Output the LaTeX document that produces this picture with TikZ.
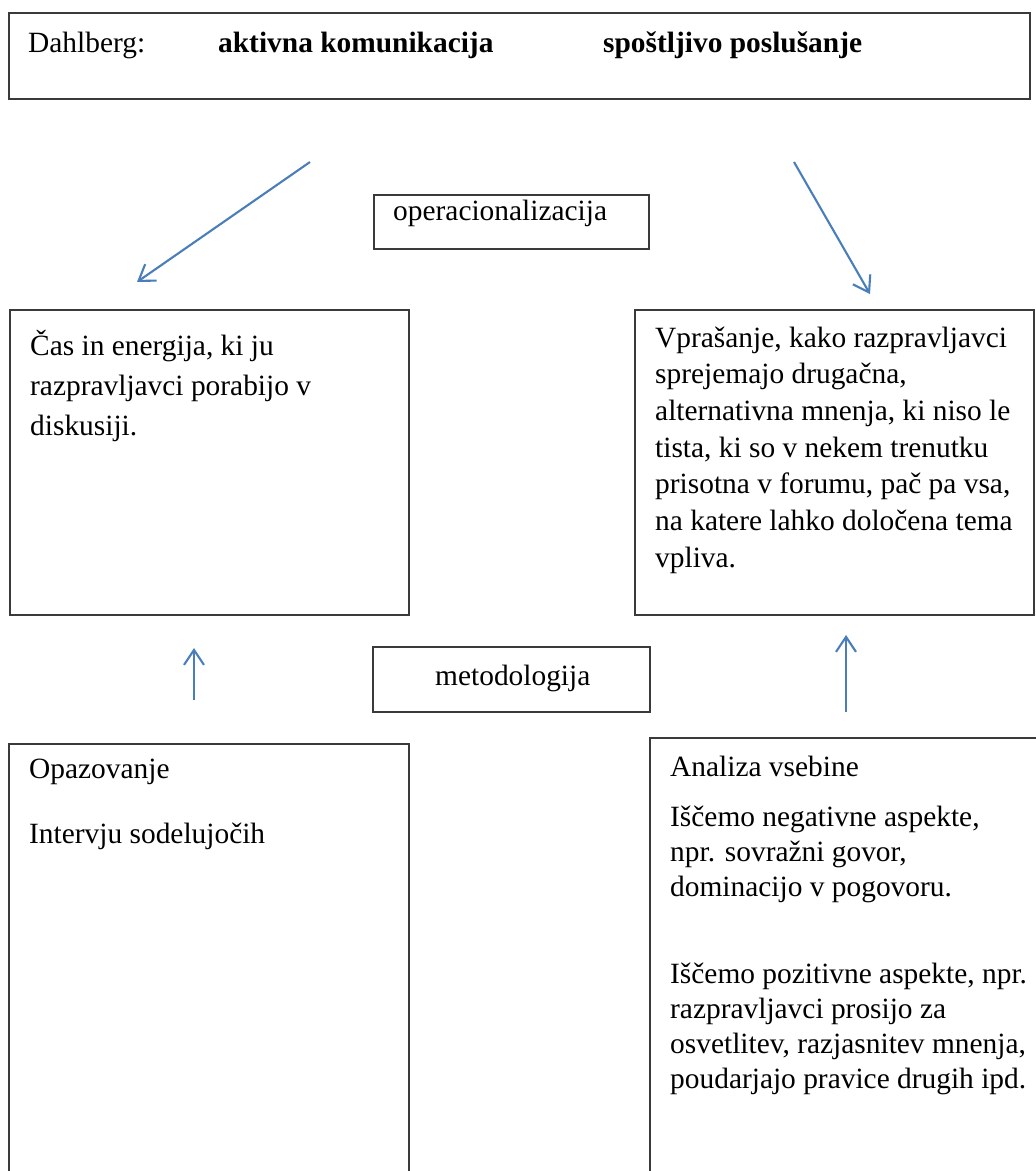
\documentclass[tikz,border=0pt]{standalone}
\usepackage{fontspec}
\setmainfont{Liberation Serif}
\usetikzlibrary{arrows.meta}
\definecolor{arrowblue}{HTML}{4A7EBB}
\definecolor{boxline}{HTML}{3A3A3A}
\newcommand{\tline}[1]{\hbox{#1}}
\begin{document}
\begin{tikzpicture}[x=1pt,y=-1pt,
  box/.style={draw=boxline, line width=1.8pt, inner sep=0pt, anchor=north west},
  txt/.style={anchor=base west, inner sep=0pt, font=\fontsize{29.4}{37}\selectfont},
  arr/.style={draw=arrowblue, line width=2.1pt, -{Straight Barb[length=15pt,width=20pt]}}]
\useasboundingbox (0,0) rectangle (1036,1171);
\clip (0,0) rectangle (1036,1171);
\fill[white] (0,0) rectangle (1036,1171);

% top box
\node[box, minimum width=1021pt, minimum height=86pt] (topbox) at (8,12) {};
\node[txt] (dahl) at (28,52) {Dahlberg:};
\node[txt, font=\fontsize{29.4}{37}\selectfont\bfseries] (akt) at (218,52) {aktivna komunikacija};
\node[txt, font=\fontsize{29.4}{37}\selectfont\bfseries] (spo) at (603,52) {spoštljivo poslušanje};

% operacionalizacija
\node[box, minimum width=275pt, minimum height=54pt] (opbox) at (373,194) {};
\node[txt] (optxt) at (393,220) {operacionalizacija};

% diagonal arrows
\coordinate (a1s) at (310,162);
\coordinate (a1e) at (137,282);
\coordinate (a2s) at (794,162);
\coordinate (a2e) at (870,294);
\draw[arr] (a1s) -- (a1e);
\draw[arr] (a2s) -- (a2e);

% middle boxes
\node[box, minimum width=399pt, minimum height=305pt] (casbox) at (9,309) {};
\node[txt, font=\fontsize{29.4}{40}\selectfont] (castxt) at (30,355)
  {\vtop{\tline{Čas in energija, ki ju}\tline{razpravljavci porabijo v}\tline{diskusiji.}}};

\node[box, minimum width=399pt, minimum height=305pt] (vprbox) at (634,309) {};
\node[txt, font=\fontsize{29.4}{36.7}\selectfont] (vprtxt) at (655,347)
  {\vtop{\tline{Vprašanje, kako razpravljavci}\tline{sprejemajo drugačna,}\tline{alternativna mnenja, ki niso le}\tline{tista, ki so v nekem trenutku}\tline{prisotna v forumu, pač pa vsa,}\tline{na katere lahko določena tema}\tline{vpliva.}}};

% metodologija
\node[box, minimum width=277pt, minimum height=65pt] (metbox) at (372,646) {};
\node[txt] (mettxt) at (435,685) {metodologija};

% up arrows
\coordinate (u1s) at (194,700);
\coordinate (u1e) at (194,648);
\coordinate (u2s) at (846,712);
\coordinate (u2e) at (846,635);
\draw[arr] (u1s) -- (u1e);
\draw[arr] (u2s) -- (u2e);

% bottom boxes
\node[box, minimum width=400pt, minimum height=500pt] (opzbox) at (8,743) {};
\node[txt] (opz1) at (29,778) {Opazovanje};
\node[txt] (opz2) at (29,843) {Intervju sodelujočih};

\node[box, minimum width=420pt, minimum height=500pt] (anbox) at (649,737) {};
\node[txt] (an0) at (670,776) {Analiza vsebine};
\node[txt, font=\fontsize{29.4}{35}\selectfont] (an1) at (670,826)
  {\vtop{\tline{Iščemo negativne aspekte,}\tline{npr. sovražni govor,}\tline{dominacijo v pogovoru.}}};
\node[txt, font=\fontsize{29.4}{35}\selectfont] (an2) at (670,983)
  {\vtop{\tline{Iščemo pozitivne aspekte, npr.}\tline{razpravljavci prosijo za}\tline{osvetlitev, razjasnitev mnenja,}\tline{poudarjajo pravice drugih ipd.}}};
\end{tikzpicture}
\end{document}
